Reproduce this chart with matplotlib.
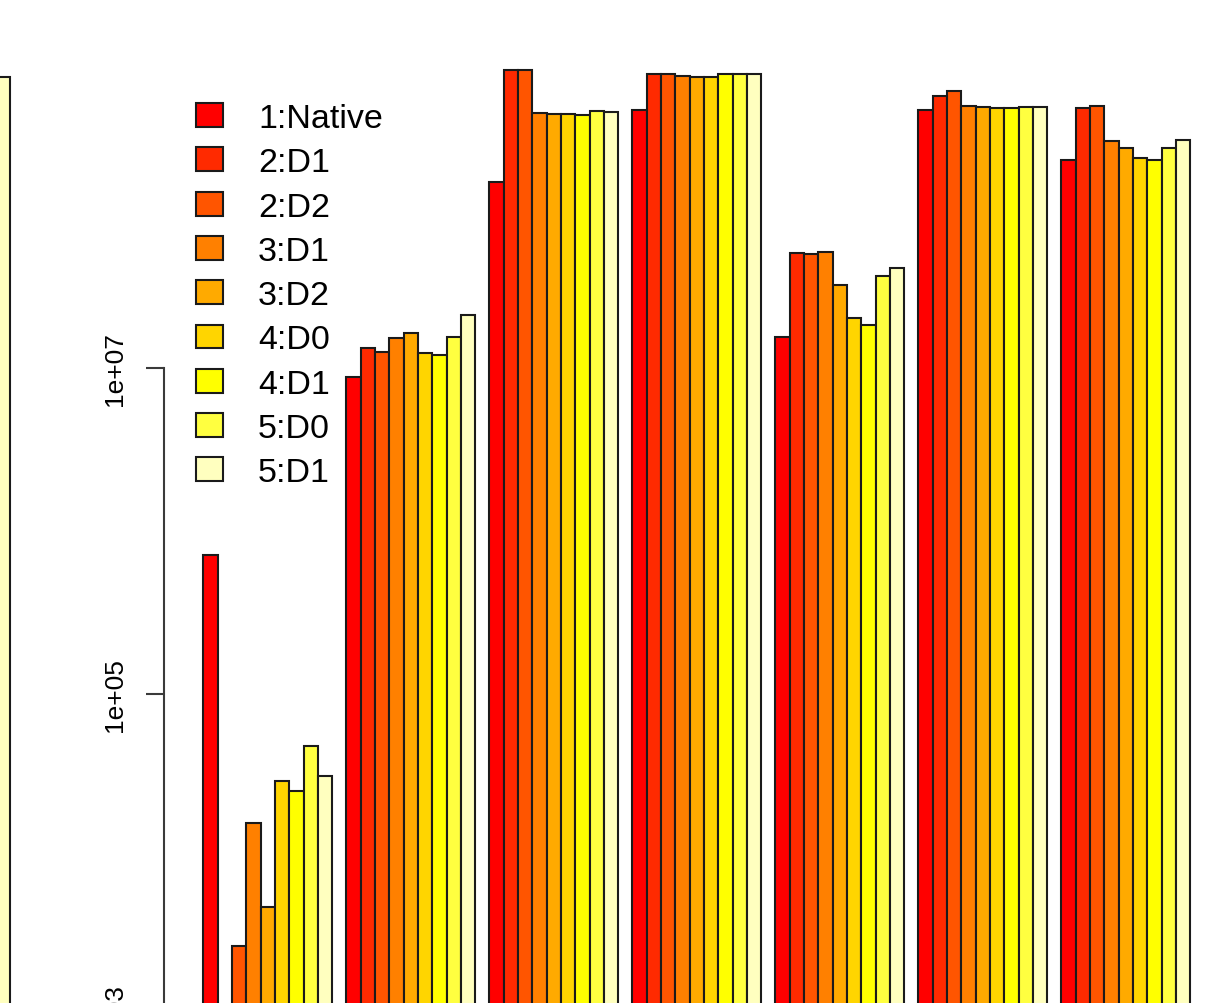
import matplotlib
matplotlib.use("Agg")
import matplotlib.pyplot as plt
from matplotlib.patches import Patch
import numpy as np

plt.rcParams["font.family"] = ["Liberation Sans", "DejaVu Sans"]

# series names and fills (heat palette, 9 steps)
SERIES = ["1:Native", "2:D1", "2:D2", "3:D1", "3:D2", "4:D0", "4:D1", "5:D0", "5:D1"]
COLORS = ["#FF0000", "#FF2A00", "#FF5500", "#FF8000", "#FFAA00",
          "#FFD500", "#FFFF00", "#FFFF40", "#FFFFBF"]

# one list per benchmark group, one value per series (nan = no result)
G1 = [7.16e5, np.nan, 2.84e3, 1.62e4, 4.93e3, 2.92e4, 2.54e4, 4.80e4, 3.14e4]
G2 = [8.77e6, 1.32e7, 1.26e7, 1.52e7, 1.64e7, 1.23e7, 1.20e7, 1.56e7, 2.12e7]
G3 = [1.38e8, 6.76e8, 6.76e8, 3.66e8, 3.63e8, 3.63e8, 3.56e8, 3.76e8, 3.73e8]
G4 = [3.83e8, 6.34e8, 6.34e8, 6.17e8, 6.12e8, 6.12e8, 6.34e8, 6.34e8, 6.34e8]
G5 = [1.56e7, 5.09e7, 5.00e7, 5.13e7, 3.24e7, 2.03e7, 1.84e7, 3.66e7, 4.10e7]
G6 = [3.85e8, 4.65e8, 4.99e8, 4.04e8, 4.01e8, 3.92e8, 3.92e8, 4.01e8, 4.01e8]
G7 = [1.90e8, 3.94e8, 4.04e8, 2.46e8, 2.23e8, 1.94e8, 1.89e8, 2.23e8, 2.51e8]
GROUPS = [G1, G2, G3, G4, G5, G6, G7]

# last bar of the neighbouring panel
PREV_PANEL = [6.1e8]

YTICKS = [1e3, 1e5, 1e7]
YTICK_LABELS = ["1e+03", "1e+05", "1e+07"]

# ---- geometry (pixels) ----
W, H = 1223, 1004
UNIT = 14.3          # px per bar
Y7 = 369             # px row of 1e7
DEC = 163            # px per decade
AX_BOTTOM = 1060     # axes extends past the bottom edge
EDGE = "#1a1a1a"
AXC = "#3a3a3a"

fig = plt.figure(figsize=(W / 100, H / 100), dpi=100)
fig.patch.set_facecolor("white")

ymax = 10 ** (7 + Y7 / DEC)
ymin = 10 ** (7 - (AX_BOTTOM - Y7) / DEC)


def add_axes_px(x0, x1):
    return fig.add_axes([x0 / W, (H - AX_BOTTOM) / H, (x1 - x0) / W, AX_BOTTOM / H])


# main barplot: beside=TRUE with one empty bar between groups
xl, xr = -1.76, 72.76
ax = add_axes_px(164, 164 + (xr - xl) * UNIT)
ax.set_yscale("log")
ax.set_xlim(xl, xr)
ax.set_ylim(ymin, ymax)

for g, vals in enumerate(GROUPS):
    xs = 10 * g + 1.5 + np.arange(len(vals))
    ax.bar(xs, np.array(vals) - 1e2, bottom=1e2, width=1.0, color=COLORS,
           edgecolor=EDGE, linewidth=1.5, zorder=2)

for s in ["top", "right", "bottom"]:
    ax.spines[s].set_visible(False)
ax.spines["left"].set_bounds(YTICKS[0], YTICKS[-1])
ax.spines["left"].set_color(AXC)
ax.spines["left"].set_linewidth(1.5)
ax.set_xticks([])
ax.set_yticks(YTICKS)
ax.set_yticklabels(YTICK_LABELS, rotation=90, va="center", fontsize=19)
ax.yaxis.set_minor_locator(matplotlib.ticker.NullLocator())
ax.tick_params(axis="y", length=13, width=1.5, color=AXC, pad=14)

# neighbouring panel, cut off at the left edge
ax0 = add_axes_px(-30, 20)
ax0.set_yscale("log")
ax0.set_xlim(0.5 - 40 / UNIT, 0.5 + 10 / UNIT)
ax0.set_ylim(ymin, ymax)
ax0.bar([0], np.array(PREV_PANEL) - 1e2, bottom=1e2, width=1.0,
        color=COLORS[-1], edgecolor=EDGE, linewidth=1.5)
ax0.axis("off")

handles = [Patch(facecolor=c, edgecolor=EDGE, linewidth=1.5) for c in COLORS]
fig.legend(handles, SERIES, loc="upper left",
           bbox_to_anchor=(196 / W, 1 - 104 / H),
           frameon=False, fontsize=24.5, handlelength=0.8, handleheight=0.7,
           handletextpad=1.02, labelspacing=0.39, borderpad=0, borderaxespad=0)

fig.savefig("out.png", dpi=100, facecolor="white")
